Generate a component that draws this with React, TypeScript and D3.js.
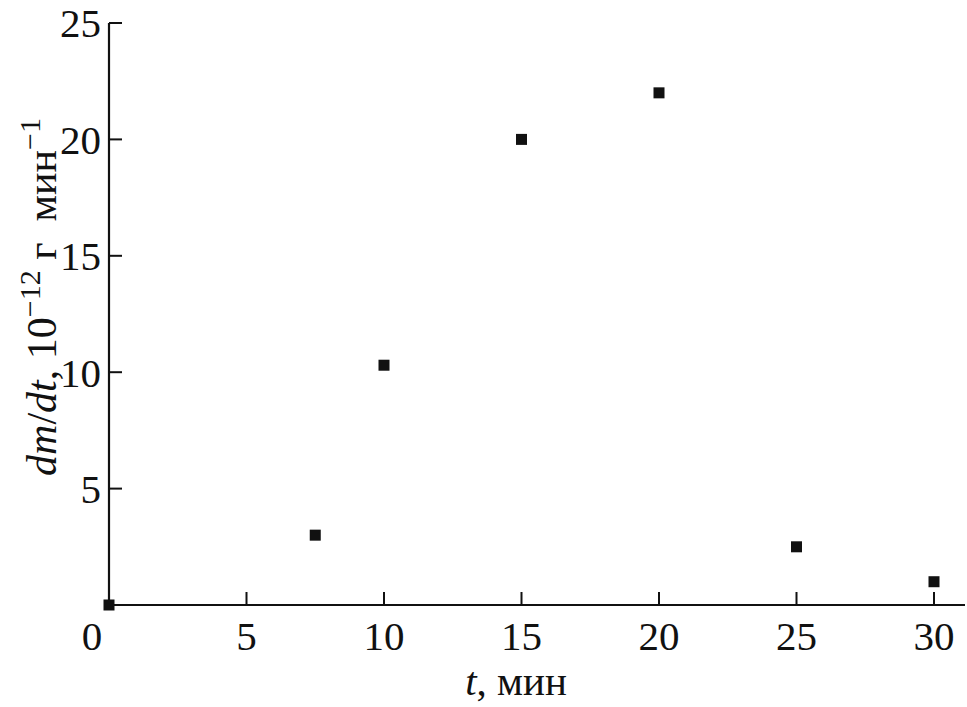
import React from "react";
import * as d3 from "d3";

const times = [0, 7.5, 10, 15, 20, 25, 30];
const rates = [0, 3, 10.3, 20, 22, 2.5, 1];
const xTicks = [0, 5, 10, 15, 20, 25, 30];
const yTicks = [5, 10, 15, 20, 25];

const W = 967;
const H = 707;
const FONT = "'Liberation Serif', 'Times New Roman', serif";

export default function App() {
  const x = d3.scaleLinear().domain([0, 30]).range([109, 934]);
  const y = d3.scaleLinear().domain([0, 25]).range([605, 23]);
  const sq = 11;
  return (
    <svg width={W} height={H} style={{ position: "absolute", left: 0, top: 0, background: "#fff" }} fontFamily={FONT}>
      <rect x={0} y={0} width={W} height={H} fill="#fff" />
      {/* axes */}
      <line x1={x(0)} y1={y(0)} x2={965} y2={y(0)} stroke="#111" strokeWidth={2.2} />
      <line x1={x(0)} y1={y(0)} x2={x(0)} y2={y(25)} stroke="#111" strokeWidth={2.2} />
      {xTicks.map((t) => (
        <g key={"xt" + t}>
          {t !== 0 && <line x1={x(t)} x2={x(t)} y1={y(0)} y2={y(0) - 13} stroke="#111" strokeWidth={2} />}
          <text x={x(t) + (t === 0 ? -17 : 0)} y={650} fontSize={41} textAnchor="middle" fill="#111">
            {t}
          </text>
        </g>
      ))}
      {yTicks.map((v) => (
        <g key={"yt" + v}>
          <line x1={x(0)} x2={x(0) + 13} y1={y(v)} y2={y(v)} stroke="#111" strokeWidth={2} />
          <text x={101} y={y(v)} dy="0.35em" fontSize={41} textAnchor="end" fill="#111">
            {v}
          </text>
        </g>
      ))}
      {times.map((t, i) => (
        <rect key={"p" + i} x={x(t) - sq / 2} y={y(rates[i]) - sq / 2} width={sq} height={sq} fill="#111" />
      ))}
      <text x={516} y={695} fontSize={41} textAnchor="middle" fill="#111">
        <tspan fontStyle="italic">t</tspan>, мин
      </text>
      <text transform={`translate(56, 297) rotate(-90)`} fontSize={42} textAnchor="middle" fill="#111">
        <tspan fontStyle="italic">dm</tspan>/<tspan fontStyle="italic">dt</tspan>, 10
        <tspan dy={-16} fontSize={30}>−12</tspan>
        <tspan dy={16}>{"\u00a0г\u00a0\u00a0мин"}</tspan>
        <tspan dy={-16} fontSize={30}>−1</tspan>
      </text>
    </svg>
  );
}
